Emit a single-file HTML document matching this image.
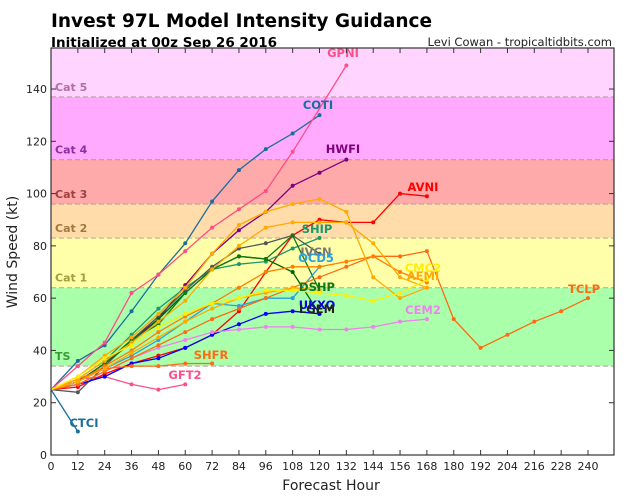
<!DOCTYPE html>
<html><head><meta charset="utf-8"><style>
body{margin:0;background:#fff;width:636px;height:496px;overflow:hidden;font-family:"DejaVu Sans","Liberation Sans",sans-serif}
</style></head><body>
<svg id="s" width="636" height="496" xmlns="http://www.w3.org/2000/svg" font-family="DejaVu Sans, Liberation Sans, sans-serif">
<text x="51" y="27" font-size="18.5" font-weight="bold">Invest 97L Model Intensity Guidance</text>
<text x="51" y="47" font-size="13.5" font-weight="bold">Initialized at 00z Sep 26 2016</text>
<text x="612" y="46" font-size="11.5" text-anchor="end" fill="#222">Levi Cowan - tropicaltidbits.com</text>
<g id="g"></g>
<text x="331" y="490" font-size="14" text-anchor="middle" fill="#222">Forecast Hour</text>
<text transform="translate(17,252) rotate(-90)" font-size="14" text-anchor="middle" fill="#222">Wind Speed (kt)</text>
</svg>
<script>
var L=51,R=614,T=48,B=455;
function X(h){return L+h*2.2375}
function Y(k){return B-k*2.614}
var g=document.getElementById('g'),o='';
function rect(k1,k2,c){var y1=Math.max(Y(k2),T);o+='<rect x="'+L+'" y="'+y1+'" width="'+(R-L)+'" height="'+(Y(k1)-y1)+'" fill="'+c+'"/>';}
rect(34,64,'#aaffaa');rect(64,83,'#ffffaa');rect(83,96,'#ffdcaa');rect(96,113,'#ffaaaa');rect(113,137,'#ffaaff');rect(137,200,'#ffd5ff');
[34,64,83,96,113,137].forEach(function(k){o+='<line x1="'+L+'" x2="'+R+'" y1="'+Y(k)+'" y2="'+Y(k)+'" stroke="#b09090" stroke-opacity="0.7" stroke-width="1.2" stroke-dasharray="5,3"/>'});
var cl=[['TS',34,'#3a9a3a'],['Cat 1',64,'#a0a040'],['Cat 2',83,'#a07840'],['Cat 3',96,'#a04040'],['Cat 4',113,'#9030a0'],['Cat 5',137,'#b070a0']];
cl.forEach(function(c){o+='<text x="55" y="'+(Y(c[1])-6)+'" font-size="11" font-weight="bold" fill="'+c[2]+'">'+c[0]+'</text>'});
var S=[
['#1a6e9e',[[0,25],[12,9]]],
['#1a6e9e',[[0,25],[12,36],[24,42],[36,55],[48,69],[60,81],[72,97],[84,109],[96,117],[108,123],[120,130]]],
['#ff4d88',[[0,25],[12,34],[24,43],[36,62],[48,69],[60,78],[72,87],[84,94],[96,101],[108,116],[132,149]]],
['#ff4d88',[[0,25],[12,29],[24,30],[36,27],[48,25],[60,27]]],
['#800080',[[0,25],[12,28],[24,35],[36,44],[48,52],[60,65],[72,77],[84,86],[96,93],[108,103],[120,108],[132,113]]],
['#ff0000',[[0,25],[12,26],[24,31],[36,35],[48,38],[60,41],[72,46],[84,55],[96,70],[108,84],[120,90],[132,89],[144,89],[156,100],[168,99]]],
['#1a9a6a',[[0,25],[12,29],[24,36],[36,46],[48,56],[60,64],[72,71],[84,73],[96,74],[108,79],[120,83]]],
['#555555',[[0,25],[12,24],[24,34],[36,44],[48,53],[60,63],[72,72],[84,79],[96,81],[108,84],[120,77]]],
['#006400',[[0,25],[12,28],[24,35],[36,43],[48,52],[60,62],[72,71],[84,76],[96,75],[108,70],[120,54]]],
['#117711',[[0,25],[12,28],[24,35],[36,44],[48,50],[60,62],[72,71],[84,76],[96,75],[108,84],[120,63]]],
['#0000ff',[[0,25],[12,27],[24,30],[36,35],[48,37],[60,41],[72,46],[84,50],[96,54],[108,55],[120,54]]],
['#29a0e0',[[0,25],[12,28],[24,33],[36,38],[48,44],[60,51],[72,58],[84,57],[96,60],[108,60],[120,72]]],
['#ee82ee',[[0,25],[12,27],[24,32],[36,37],[48,41],[60,44],[72,47],[84,48],[96,49],[108,49],[120,48],[132,48],[144,49],[156,51],[168,52]]],
['#ff6a13',[[0,25],[12,29],[24,33],[36,34],[48,34],[60,35],[72,35]]],
['#ff6a13',[[0,25],[12,27],[24,32],[36,37],[48,42],[60,47],[72,52],[84,56],[96,60],[108,64],[120,68],[132,72],[144,76],[156,76],[168,78],[180,52],[192,41],[204,46],[216,51],[228,55],[240,60]]],
['#ff7f00',[[0,25],[12,28],[24,34],[36,40],[48,47],[60,53],[72,58],[84,64],[96,70],[108,72],[120,72],[132,74],[144,76],[156,70],[168,66]]],
['#ffaa00',[[0,25],[12,29],[24,36],[36,43],[48,51],[60,59],[72,71],[84,80],[96,87],[108,89],[120,89],[132,89],[144,81],[156,68],[168,64]]],
['#ffaa00',[[0,25],[12,30],[24,38],[36,45],[48,54],[60,64],[72,77],[84,88],[96,93],[108,96],[120,98],[132,93],[144,68],[156,60],[168,64]]],
['#ffaa00',[[0,25],[12,28],[24,33],[36,39],[48,45],[60,51],[72,56],[84,60],[96,62],[108,64],[120,63]]],
['#ffee00',[[0,25],[12,30],[24,37],[36,42],[48,49],[60,54],[72,58],[84,60],[96,63],[108,63],[120,62],[132,61],[144,59],[156,62],[168,67]]]
];
S.forEach(function(s){var p=s[1].map(function(d){return X(d[0]).toFixed(1)+','+Y(d[1]).toFixed(1)}).join(' ');
o+='<polyline points="'+p+'" fill="none" stroke="'+s[0]+'" stroke-width="1.3"/>';
s[1].forEach(function(d,i){if(i>0)o+='<circle cx="'+X(d[0])+'" cy="'+Y(d[1])+'" r="2" fill="'+s[0]+'"/>'});});
var lb=[['GPNI',343,57,'#ff4d88'],['COTI',318,109,'#1a6e9e'],['HWFI',343,153,'#800080'],['AVNI',423,191,'#ff0000'],['SHIP',317,233,'#1a9a6a'],['IVCN',316,256,'#777'],['OCD5',316,262,'#29a0e0'],['DSHP',317,291,'#117711'],['UKXO',317,309,'#0000ff'],['LGEM',317,313,'#222'],['CMC2',423,272,'#ffee00'],['AEMI',423,280,'#ffaa00'],['CEM2',423,314,'#ee82ee'],['TCLP',584,293,'#ff6a13'],['SHFR',211,359,'#ff6a13'],['GFT2',185,379,'#ff4d88'],['CTCI',84,427,'#1a6e9e']];
lb.forEach(function(l){o+='<text x="'+l[1]+'" y="'+l[2]+'" font-size="11.5" font-weight="bold" text-anchor="middle" fill="'+l[3]+'">'+l[0]+'</text>'});
o+='<rect x="'+L+'" y="'+T+'" width="'+(R-L)+'" height="'+(B-T)+'" fill="none" stroke="#333" stroke-width="1.2"/>';
for(var h=0;h<=240;h+=12){var x=X(h);o+='<line x1="'+x+'" x2="'+x+'" y1="'+B+'" y2="'+(B-5)+'" stroke="#333"/><line x1="'+x+'" x2="'+x+'" y1="'+T+'" y2="'+(T+5)+'" stroke="#333"/><text x="'+x+'" y="'+(B+15)+'" font-size="11" text-anchor="middle" fill="#222">'+h+'</text>';}
for(var k=0;k<=140;k+=20){var y=Y(k);o+='<line x1="'+L+'" x2="'+(L+5)+'" y1="'+y+'" y2="'+y+'" stroke="#333"/><line x1="'+R+'" x2="'+(R-5)+'" y1="'+y+'" y2="'+y+'" stroke="#333"/><text x="'+(L-4)+'" y="'+(y+4)+'" font-size="11" text-anchor="end" fill="#222">'+k+'</text>';}
g.innerHTML=o;
</script>
</body></html>
